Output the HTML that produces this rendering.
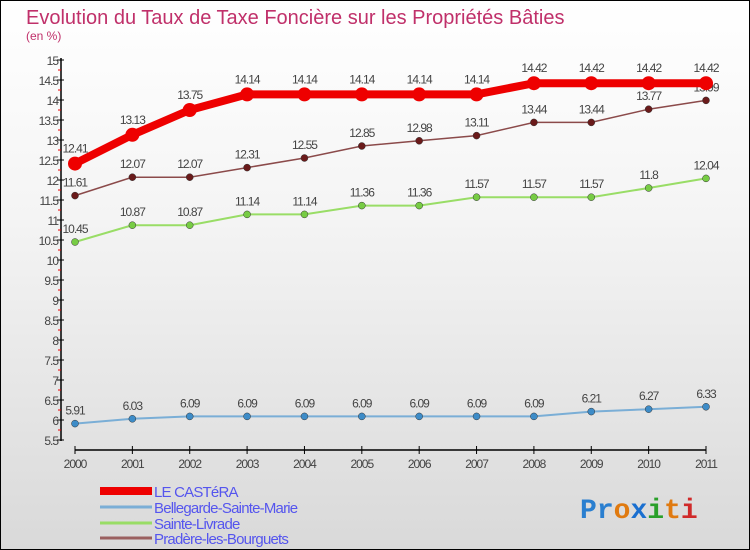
<!DOCTYPE html>
<html><head><meta charset="utf-8"><style>
body{margin:0;}
#c{width:750px;height:550px;position:relative;box-sizing:border-box;border:1px solid #000;background:linear-gradient(#fff 0%,#f4f4f4 40%,#d9d9d9 100%);font-family:"Liberation Sans",sans-serif;overflow:hidden}
</style></head><body>
<div id="c">
<svg id="s" width="750" height="550" style="position:absolute;left:-1px;top:-1px">
<text x="26" y="24" font-size="20" fill="#c0306a">Evolution du Taux de Taxe Foncière sur les Propriétés Bâties</text>
<text x="26" y="40" font-size="12" fill="#c0306a">(en %)</text>
</svg>
</div>
<script>
const years=[2000,2001,2002,2003,2004,2005,2006,2007,2008,2009,2010,2011];
const casteraVals=[12.41,13.13,13.75,14.14,14.14,14.14,14.14,14.14,14.42,14.42,14.42,14.42];
const bellegardeVals=[5.91,6.03,6.09,6.09,6.09,6.09,6.09,6.09,6.09,6.21,6.27,6.33];
const livradeVals=[10.45,10.87,10.87,11.14,11.14,11.36,11.36,11.57,11.57,11.57,11.8,12.04];
const pradereVals=[11.61,12.07,12.07,12.31,12.55,12.85,12.98,13.11,13.44,13.44,13.77,13.99];
const yTicks=[5.5,6,6.5,7,7.5,8,8.5,9,9.5,10,10.5,11,11.5,12,12.5,13,13.5,14,14.5,15];
const seriesNames=["LE CASTéRA","Bellegarde-Sainte-Marie","Sainte-Livrade","Pradère-les-Bourguets"];

const svg=document.getElementById('s');const NS='http://www.w3.org/2000/svg';
function y(v){return 60+(15-v)*40;}
function x(i){return 75+i*(706-75)/(years.length-1);}
function el(t,a,p){const e=document.createElementNS(NS,t);for(const k in a)e.setAttribute(k,a[k]);(p||svg).appendChild(e);return e;}
// axes
let a=el('line',{x1:61,y1:58,x2:61,y2:441,stroke:'#000','stroke-width':1.5});


a=el('line',{x1:75,y1:450,x2:706,y2:450,stroke:'#000','stroke-width':1.5});


yTicks.forEach(v=>{
 el('line',{x1:57,y1:y(v),x2:64,y2:y(v),stroke:'#000'});
 if(v<15)el('line',{x1:58,y1:y(v+0.25),x2:61,y2:y(v+0.25),stroke:'#e00'});
 const t=el('text',{x:58,y:y(v)+5,'text-anchor':'end','font-size':12,fill:'#444','letter-spacing':'-1'});t.textContent=v;
 
 
});
years.forEach((yr,i)=>{
 el('line',{x1:x(i),y1:446,x2:x(i),y2:454,stroke:'#000'});
 const t=el('text',{x:x(i),y:468,'text-anchor':'middle','font-size':12,fill:'#444','letter-spacing':'-1'});t.textContent=yr;
 
 
});
function series(vals,color,w,r,dot,name){
 const g=el('g',{});
 
 
 el('polyline',{points:vals.map((v,i)=>x(i)+','+y(v)).join(' '),fill:'none',stroke:color,'stroke-width':w},g);
 vals.forEach((v,i)=>{
  const c=el('circle',{cx:x(i),cy:y(v),r:r,fill:dot,stroke:w>3?'none':'#333','stroke-width':0.5},g);
  
  
  const t=el('text',{x:x(i),y:y(v)-(w>3?11:9),'text-anchor':'middle','font-size':12,fill:'#444','letter-spacing':'-1'},g);t.textContent=v;
  
  
 });
}
series(bellegardeVals,'#7aaed6',2,3.5,'#3d8cc8','bellegarde-series');
series(livradeVals,'#99dd66',2,3.5,'#77cc44','livrade-series');
series(pradereVals,'#8b4a4a',1.5,3.5,'#6a1a1a','pradere-series');
series(casteraVals,'#ee0000',8,7,'#ee0000','castera-series');
// legend
const lc=['#ee0000','#7aaed6','#99dd66','#9a6060'],lw=[8,3,3,3],ly=[491,507,523,538];
seriesNames.forEach((n,i)=>{
 const g=el('g',{});
 
 
 el('line',{x1:100,y1:ly[i],x2:152,y2:ly[i],stroke:lc[i],'stroke-width':lw[i]},g);
 const t=el('text',{x:154,y:ly[i]+6,'font-size':15,fill:'#5555ee','letter-spacing':'-0.8'},g);t.textContent=n;
});
// logo
const lg=el('text',{x:580,y:518,'font-size':28,'font-weight':'bold','font-family':'Liberation Mono,monospace'});


[['P','#2a7fd0'],['r','#2a7fd0'],['o','#e07a10'],['x','#1a6fd0'],['i','#2aa02a'],['t','#e07a10'],['i','#d02a2a']].forEach(([c,f])=>{const s=el('tspan',{fill:f},lg);s.textContent=c;});
</script>
</body></html>
